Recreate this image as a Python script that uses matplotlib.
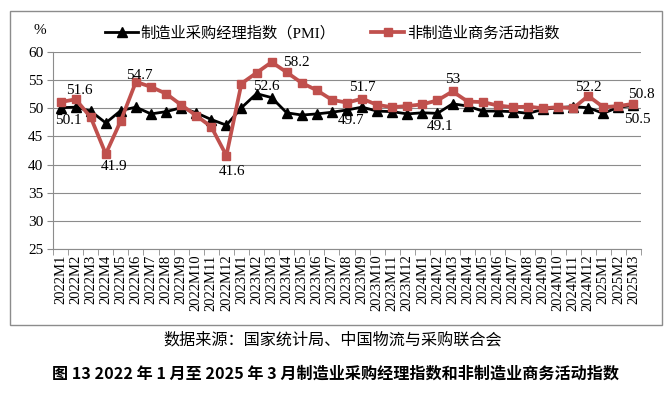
import matplotlib
matplotlib.use("Agg")
import matplotlib.pyplot as plt
from matplotlib.patches import Rectangle

plt.rcParams['font.family'] = ['Liberation Serif', 'Noto Sans CJK SC']

# 月份
months = [f"{y}M{m}" for y in (2022, 2023, 2024) for m in range(1, 13)] + ["2025M1", "2025M2", "2025M3"]

# 制造业PMI
pmi = [50.1, 50.2, 49.5, 47.4, 49.6, 50.2, 49.0, 49.4, 50.1, 49.2, 48.0, 47.0,
       50.1, 52.6, 51.9, 49.2, 48.8, 49.0, 49.3, 49.7, 50.2, 49.5, 49.4, 49.0,
       49.2, 49.1, 50.8, 50.4, 49.5, 49.5, 49.4, 49.1, 49.8, 50.1, 50.3, 50.1,
       49.1, 50.2, 50.5]

# 非制造业商务活动指数
non_mfg = [51.1, 51.6, 48.4, 41.9, 47.8, 54.7, 53.8, 52.6, 50.6, 48.7, 46.7, 41.6,
           54.4, 56.3, 58.2, 56.4, 54.5, 53.2, 51.5, 51.0, 51.7, 50.6, 50.2, 50.4,
           50.7, 51.4, 53.0, 51.2, 51.1, 50.5, 50.2, 50.3, 50.0, 50.2, 50.0, 52.2,
           50.2, 50.4, 50.8]

# 数据标签: (索引, x偏移px, y偏移px)
pmi_labels = [(0, 8, -13), (13, 10, 7), (19, 4, -11), (25, 3, -13), (38, 4, -14)]
non_labels = [(1, 4, 9), (3, 8, -13), (5, 3, 6), (11, 6, -16), (14, 25, 0),
              (20, 0, 11), (26, 0, 12), (35, 0, 8), (38, 8, 9)]

red = '#C0504D'
grey = '#8C8C8C'

fig = plt.figure(figsize=(6.71, 3.97), dpi=100)
ax = fig.add_axes([53 / 671, 1 - 249 / 397, 588 / 671, 197 / 397])

x = list(range(len(months)))
l1, = ax.plot(x, pmi, color='black', lw=2.0, marker='^', ms=6.5, zorder=3,
              label='制造业采购经理指数（PMI）')
l2, = ax.plot(x, non_mfg, color=red, lw=2.7, marker='s', ms=5.2, zorder=4,
              label='非制造业商务活动指数')

for i, dx, dy in pmi_labels:
    ax.annotate(f"{pmi[i]:g}", (i, pmi[i]), xytext=(dx, dy), textcoords='offset pixels',
                ha='center', va='center', fontsize=11, zorder=6)
for i, dx, dy in non_labels:
    ax.annotate(f"{non_mfg[i]:g}", (i, non_mfg[i]), xytext=(dx, dy), textcoords='offset pixels',
                ha='center', va='center', fontsize=11, zorder=6)

ax.set_xlim(-0.5, len(months) - 0.5)
ax.set_ylim(25, 60)
ax.set_yticks(range(25, 61, 5))
ax.yaxis.grid(True, color=grey, lw=0.8)
ax.set_axisbelow(True)
ax.set_xticks(x)
ax.set_xticklabels(months, rotation=90, fontsize=10.5)
ax.set_xticks([i - 0.5 for i in range(len(months) + 1)], minor=True)
ax.tick_params(axis='x', which='major', length=0, pad=4)
ax.tick_params(axis='x', which='minor', length=4, color=grey)
ax.tick_params(axis='y', length=4, color=grey, labelsize=11, pad=3)
for s in ('top', 'right'):
    ax.spines[s].set_visible(False)
for s in ('left', 'bottom'):
    ax.spines[s].set_color(grey)

fig.legend(handles=[l1, l2], loc='center', bbox_to_anchor=(332 / 671, 1 - 33 / 397), ncol=2,
           frameon=False, handlelength=2.2, handletextpad=0.15, columnspacing=2.3,
           prop={'family': ['Liberation Serif', 'Noto Sans CJK SC'], 'size': 11})

fig.text(40 / 671, 1 - 30 / 397, '%', ha='center', va='center', fontsize=11)

fig.patches.append(Rectangle((10 / 671, 1 - 325 / 397), 652 / 671, 314 / 397,
                             transform=fig.transFigure, fill=False, edgecolor=grey, lw=1))

fig.text(333 / 671, 1 - 340 / 397, '数据来源：国家统计局、中国物流与采购联合会',
         ha='center', va='center', fontsize=11.6, family=['Noto Sans CJK SC'])
fig.text(336 / 671, 1 - 374 / 397,
         '图 13 2022 年 1 月至 2025 年 3 月制造业采购经理指数和非制造业商务活动指数',
         ha='center', va='center', fontsize=11.6, fontweight='bold', family=['Noto Sans CJK SC'])

fig.savefig('out.png', dpi=100)
